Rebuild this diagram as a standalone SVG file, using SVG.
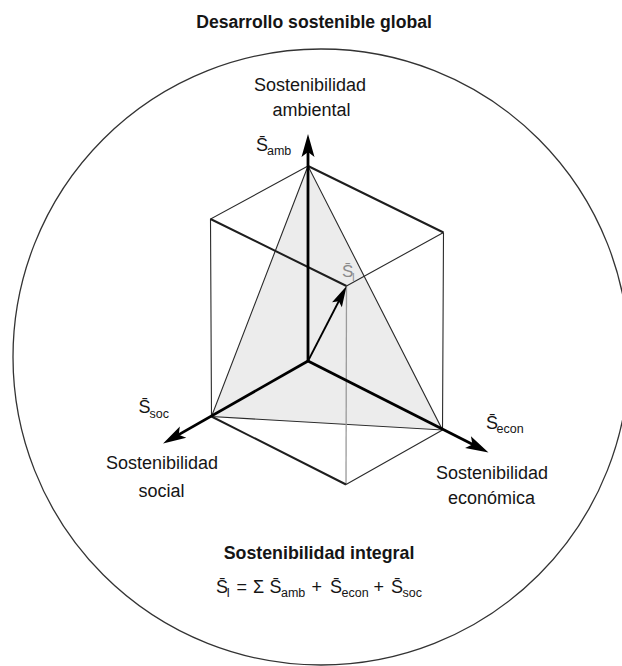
<svg xmlns="http://www.w3.org/2000/svg" width="622" height="666" viewBox="0 0 622 666">
<style>
text{font-family:"Liberation Sans",Arial,sans-serif;fill:#151515}
.lbl{font-size:18px;text-anchor:middle}
.bold{font-weight:bold}
.s{font-size:18px}
.sub{font-size:12.5px}
.thick{stroke:#1e1e1e;stroke-width:2;fill:none}
.thin{stroke:#2a2a2a;stroke-width:1.1;fill:none}
.axis{stroke:#000;stroke-width:2.8;fill:none}
</style>
<defs>
<marker id="ah" markerUnits="userSpaceOnUse" markerWidth="40" markerHeight="40" orient="auto" refX="0" refY="0" overflow="visible">
<path d="M12,0 L-11,-6.5 L-6,0 L-11,6.5 Z" fill="#000"/>
</marker>
<marker id="ahs" markerUnits="userSpaceOnUse" markerWidth="40" markerHeight="40" orient="auto" refX="0" refY="0" overflow="visible">
<path d="M10,0 L-11,-5.5 L-7,0 L-11,5.5 Z" fill="#000"/>
</marker>
</defs>
<rect width="622" height="666" fill="#fff"/>
<g id="global">
<circle cx="321" cy="357" r="308" fill="none" stroke="#333" stroke-width="1.3"/>
<text class="bold" x="314" y="28" font-size="17.6" text-anchor="middle">Desarrollo sostenible global</text>
</g>
<g id="cube">
<polygon points="308,166 211.5,416.5 442.5,430" fill="#ececec" stroke="#2a2a2a" stroke-width="1.1"/>
<line x1="346.5" y1="286" x2="346" y2="484.5" stroke="#9a9a9a" stroke-width="1.3"/>
<path class="thin" d="M308,166 L210.5,219 L211.5,416.5 M443.5,232.5 L346.5,286 M442.5,430 L346,484.5 M443.5,232.5 L442.5,430"/>
<path class="thick" d="M308,166 L443.5,232.5 M210.5,219 L346.5,286 M211.5,416.5 L346,484.5"/>
</g>
<g id="connectors">
<line class="axis" x1="308" y1="361" x2="308" y2="146" marker-end="url(#ah)"/>
<line class="axis" x1="308" y1="361" x2="173.5" y2="437.6" marker-end="url(#ah)"/>
<line class="axis" x1="308" y1="361" x2="477.8" y2="447.1" marker-end="url(#ah)"/>
<line x1="308" y1="361" x2="342" y2="295" stroke="#000" stroke-width="1.8" marker-end="url(#ahs)"/>
</g>
<g id="si-label">
<text x="342" y="277" font-size="17" fill="#8a8a8a" style="fill:#8a8a8a">S&#x0304;<tspan x="352" y="281" font-size="10">I</tspan></text>
</g>
<g id="ambiental">
<text class="lbl" x="310" y="91">Sostenibilidad</text>
<text class="lbl" x="311.5" y="116">ambiental</text>
<text class="s" x="256" y="151">S&#x0304;<tspan class="sub" x="267" y="155">amb</tspan></text>
</g>
<g id="social">
<text class="s" x="138.5" y="413">S&#x0304;<tspan class="sub" x="149.5" y="418">soc</tspan></text>
<text class="lbl" x="162" y="469">Sostenibilidad</text>
<text class="lbl" x="161.5" y="497">social</text>
</g>
<g id="economica">
<text class="s" x="486" y="428.5">S&#x0304;<tspan class="sub" x="496.5" y="433">econ</tspan></text>
<text class="lbl" x="492" y="479">Sostenibilidad</text>
<text class="lbl" x="491.5" y="504">económica</text>
</g>
<g id="integral">
<text class="bold" x="319" y="558.5" font-size="17.8" text-anchor="middle">Sostenibilidad integral</text>
<text class="s" y="593"><tspan x="216">S&#x0304;</tspan><tspan class="sub" x="226.5" y="597" font-size="11">I</tspan><tspan x="236.5" y="593">=</tspan><tspan x="253" y="593">Σ</tspan><tspan x="269.5" y="593">S&#x0304;</tspan><tspan class="sub" x="281" y="597">amb</tspan><tspan x="311.5" y="593">+</tspan><tspan x="330" y="593">S&#x0304;</tspan><tspan class="sub" x="341.5" y="597">econ</tspan><tspan x="373.5" y="593">+</tspan><tspan x="391" y="593">S&#x0304;</tspan><tspan class="sub" x="402.5" y="597">soc</tspan></text>
</g>
</svg>
